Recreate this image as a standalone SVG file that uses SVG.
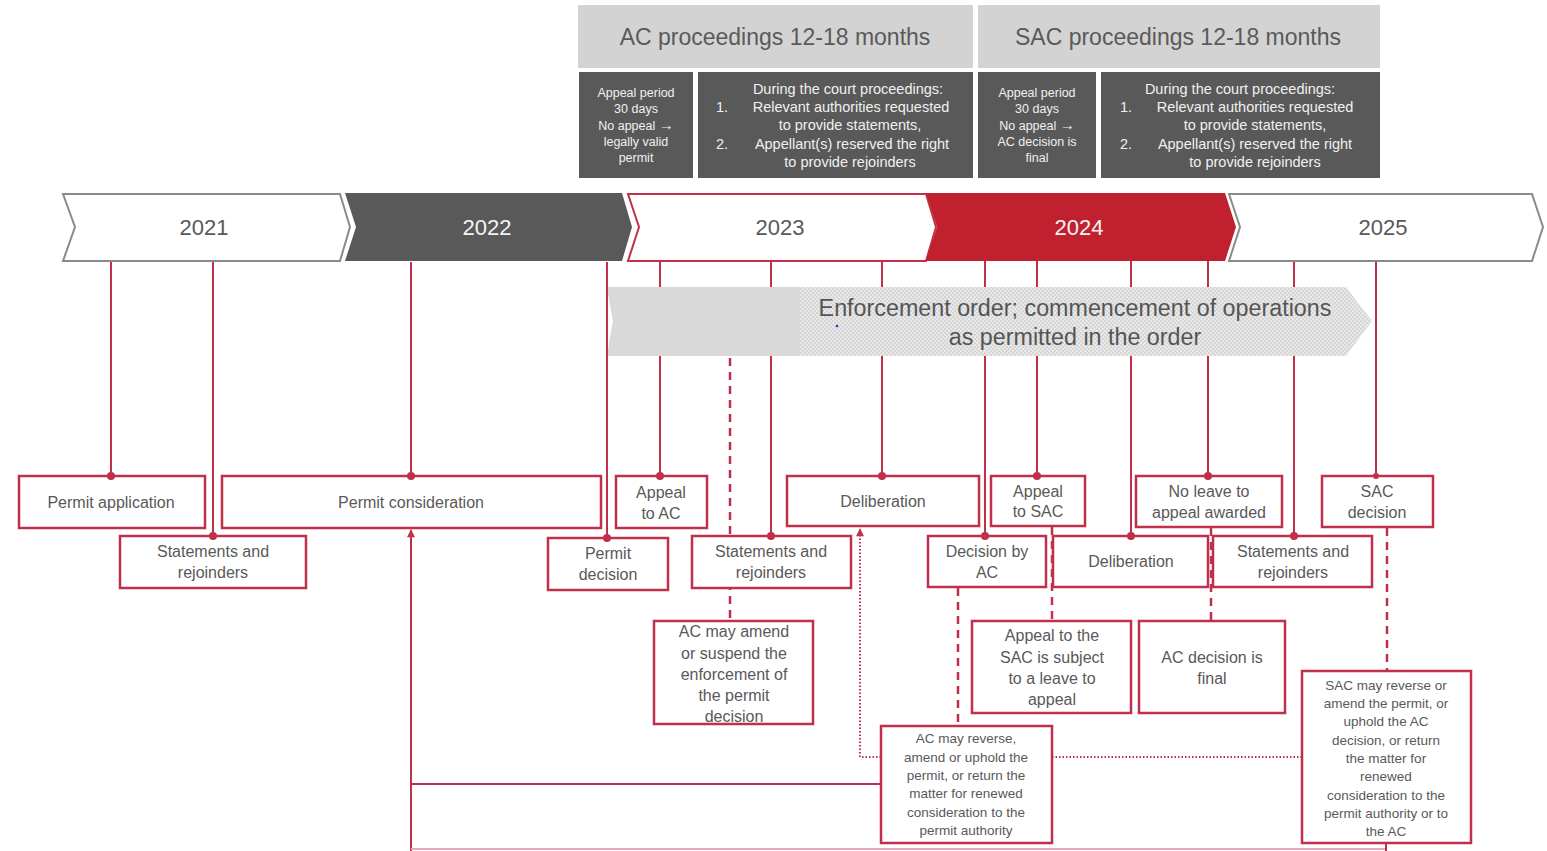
<svg xmlns="http://www.w3.org/2000/svg" width="1547" height="851" viewBox="0 0 1547 851">
  <style>
    text { font-family: "Liberation Sans", Arial, sans-serif; fill: #595959; text-anchor: middle; }
    .hdr { fill: #d3d3d3; }
    .hdr-t { font-size: 23px; fill: #5a5a5a; }
    .dark { fill: #595959; }
    .dark-t { font-size: 12.5px; fill: #f0f0f0; }
    .dur-t { font-size: 14.5px; fill: #f0f0f0; }
    .num { text-anchor: start; }
    .year { font-size: 22px; }
    .year-inv { fill: #f4f4f4; }
    .band-t { font-size: 23.3px; fill: #555555; }
    .box { fill: #ffffff; stroke: #c0304a; stroke-width: 2.5; }
    .bt { font-size: 16px; }
    .st { font-size: 13.5px; }
    .ln { stroke: #c0304a; stroke-width: 2; fill: none; }
    .dash { stroke: #c0304a; stroke-width: 2.5; stroke-dasharray: 8 6; fill: none; }
    .dot { stroke: #c0304a; stroke-width: 2; stroke-dasharray: 1.5 2; fill: none; }
    .pin { fill: #c0304a; }
  </style>
  <defs>
    <pattern id="hatch" width="4" height="4" patternUnits="userSpaceOnUse">
      <rect width="4" height="4" fill="#e8e8e8"/>
      <rect width="2" height="2" fill="#d6d6d6"/>
      <rect x="2" y="2" width="2" height="2" fill="#d6d6d6"/>
    </pattern>
    <marker id="tri" viewBox="0 0 10 10" refX="9" refY="5" markerWidth="9" markerHeight="8" orient="auto" markerUnits="userSpaceOnUse">
      <path d="M0,0 L10,5 L0,10 z" fill="#c0304a"/>
    </marker>
  </defs>

  <rect width="1547" height="851" fill="#ffffff"/>

  <!-- court proceedings headers -->
  <g id="hdr-ac">
    <rect class="hdr" x="578" y="5" width="395" height="63"/>
    <text class="hdr-t" x="775" y="45">AC proceedings 12-18 months</text>
  </g>
  <g id="hdr-sac">
    <rect class="hdr" x="978" y="5" width="402" height="63"/>
    <text class="hdr-t" x="1178" y="45">SAC proceedings 12-18 months</text>
  </g>
  <g id="ac-appeal-period">
    <rect class="dark" x="579" y="72" width="114" height="106"/>
    <text class="dark-t" x="636" y="97">Appeal period</text>
    <text class="dark-t" x="636" y="113">30 days</text>
    <text class="dark-t" x="636" y="130">No appeal <tspan font-size="15">→</tspan></text>
    <text class="dark-t" x="636" y="146">legally valid</text>
    <text class="dark-t" x="636" y="162">permit</text>
  </g>
  <g id="ac-during">
    <rect class="dark" x="698" y="72" width="275" height="106"/>
    <text class="dur-t" x="848" y="94">During the court proceedings:</text>
    <text class="dur-t num" x="716" y="112">1.</text>
    <text class="dur-t" x="851" y="112">Relevant authorities requested</text>
    <text class="dur-t" x="850" y="130">to provide statements,</text>
    <text class="dur-t num" x="716" y="149">2.</text>
    <text class="dur-t" x="852" y="149">Appellant(s) reserved the right</text>
    <text class="dur-t" x="850" y="167">to provide rejoinders</text>
  </g>
  <g id="sac-appeal-period">
    <rect class="dark" x="978" y="72" width="118" height="106"/>
    <text class="dark-t" x="1037" y="97">Appeal period</text>
    <text class="dark-t" x="1037" y="113">30 days</text>
    <text class="dark-t" x="1037" y="130">No appeal <tspan font-size="15">→</tspan></text>
    <text class="dark-t" x="1037" y="146">AC decision is</text>
    <text class="dark-t" x="1037" y="162">final</text>
  </g>
  <g id="sac-during">
    <rect class="dark" x="1101" y="72" width="279" height="106"/>
    <text class="dur-t" x="1240" y="94">During the court proceedings:</text>
    <text class="dur-t num" x="1120" y="112">1.</text>
    <text class="dur-t" x="1255" y="112">Relevant authorities requested</text>
    <text class="dur-t" x="1255" y="130">to provide statements,</text>
    <text class="dur-t num" x="1120" y="149">2.</text>
    <text class="dur-t" x="1255" y="149">Appellant(s) reserved the right</text>
    <text class="dur-t" x="1255" y="167">to provide rejoinders</text>
  </g>

  <!-- connectors -->
  <g id="connectors">
    <!-- drop lines from the year chevrons to the events -->
    <line class="ln" x1="111" y1="261" x2="111" y2="476"/>
    <line class="ln" x1="213" y1="261" x2="213" y2="536"/>
    <line class="ln" x1="411" y1="262" x2="411" y2="476"/>
    <line class="ln" x1="607" y1="262" x2="607" y2="538"/>
    <line class="ln" x1="660" y1="261" x2="660" y2="476"/>
    <line class="ln" x1="771" y1="261" x2="771" y2="536"/>
    <line class="ln" x1="882" y1="261" x2="882" y2="476"/>
    <line class="ln" x1="985" y1="261" x2="985" y2="536"/>
    <line class="ln" x1="1037" y1="261" x2="1037" y2="476"/>
    <line class="ln" x1="1131" y1="261" x2="1131" y2="536"/>
    <line class="ln" x1="1208" y1="261" x2="1208" y2="476"/>
    <line class="ln" x1="1294" y1="261" x2="1294" y2="536"/>
    <line class="ln" x1="1376" y1="261" x2="1376" y2="476"/>
    <!-- dashed consequences -->
    <line class="dash" x1="730" y1="358" x2="730" y2="621"/>
    <line class="dash" x1="958" y1="588" x2="958" y2="726"/>
    <line class="dash" x1="1052" y1="527" x2="1052" y2="621"/>
    <line class="dash" x1="1211" y1="528" x2="1211" y2="621"/>
    <line class="dash" x1="1387" y1="528" x2="1387" y2="671"/>
    <!-- dotted return paths -->
    <polyline class="dot" points="881,757 860,757 860,529" marker-end="url(#tri)"/>
    <line class="dot" x1="1052" y1="757" x2="1302" y2="757"/>
    <!-- renewed consideration feedback -->
    <line class="ln" x1="411" y1="851" x2="411" y2="530" marker-end="url(#tri)"/>
    <line class="ln" x1="411" y1="784" x2="881" y2="784"/>
    <line x1="411" y1="849" x2="1386" y2="849" stroke="#e8a8b6" stroke-width="2"/>
    <line class="ln" x1="1386" y1="843" x2="1386" y2="851"/>
  </g>

  <!-- enforcement band -->
  <g id="enforcement">
    <polygon points="607,287 1346,287 1372,321 1346,356 607,356 613,321" fill="url(#hatch)"/>
    <polygon points="607,287 800,287 800,356 607,356 613,321" fill="#d9d9d9"/>
    <text class="band-t" x="1075" y="316">Enforcement order; commencement of operations</text>
    <text class="band-t" x="1075" y="345">as permitted in the order</text>
    <circle cx="837" cy="326" r="1.3" fill="#2233cc"/>
  </g>
  <!-- line that stays visible through the band -->
  <line class="ln" x1="607" y1="287" x2="607" y2="356"/>

  <!-- year chevrons -->
  <g id="y2021">
    <polygon points="63,194 340,194 350,227 340,261 63,261 75,227" fill="#fff" stroke="#8a8a8a" stroke-width="2"/>
    <text class="year" x="204" y="235">2021</text>
  </g>
  <g id="y2022">
    <polygon points="345,193 622,193 632,227 622,261 345,261 356,227" fill="#595959"/>
    <text class="year year-inv" x="487" y="235">2022</text>
  </g>
  <g id="y2023">
    <polygon points="628,194 926,194 936,227 926,261 628,261 639,227" fill="#fff" stroke="#c0304a" stroke-width="2"/>
    <text class="year" x="780" y="235">2023</text>
  </g>
  <g id="y2024">
    <polygon points="926,193 1225,193 1236,227 1225,261 926,261 937,227" fill="#c1212f"/>
    <text class="year year-inv" x="1079" y="235">2024</text>
  </g>
  <g id="y2025">
    <polygon points="1229,194 1532,194 1543,227 1532,261 1229,261 1240,227" fill="#fff" stroke="#8a8a8a" stroke-width="2"/>
    <text class="year" x="1383" y="235">2025</text>
  </g>

  <!-- event boxes -->
  <g id="permit-application">
    <rect class="box" x="19" y="476" width="186" height="52"/>
    <text class="bt" x="111" y="508">Permit application</text>
  </g>
  <g id="statements-1">
    <rect class="box" x="120" y="536" width="186" height="52"/>
    <text class="bt" x="213" y="557">Statements and</text>
    <text class="bt" x="213" y="578">rejoinders</text>
  </g>
  <g id="permit-consideration">
    <rect class="box" x="222" y="476" width="379" height="52"/>
    <text class="bt" x="411" y="508">Permit consideration</text>
  </g>
  <g id="permit-decision">
    <rect class="box" x="548" y="538" width="120" height="52"/>
    <text class="bt" x="608" y="559">Permit</text>
    <text class="bt" x="608" y="580">decision</text>
  </g>
  <g id="appeal-ac">
    <rect class="box" x="616" y="476" width="91" height="52"/>
    <text class="bt" x="661" y="498">Appeal</text>
    <text class="bt" x="661" y="519">to AC</text>
  </g>
  <g id="statements-2">
    <rect class="box" x="692" y="536" width="159" height="52"/>
    <text class="bt" x="771" y="557">Statements and</text>
    <text class="bt" x="771" y="578">rejoinders</text>
  </g>
  <g id="ac-amend">
    <rect class="box" x="654" y="621" width="159" height="103"/>
    <text class="bt" x="734" y="637">AC may amend</text>
    <text class="bt" x="734" y="659">or suspend the</text>
    <text class="bt" x="734" y="680">enforcement of</text>
    <text class="bt" x="734" y="701">the permit</text>
    <text class="bt" x="734" y="722">decision</text>
  </g>
  <g id="deliberation-1">
    <rect class="box" x="787" y="476" width="192" height="50"/>
    <text class="bt" x="883" y="507">Deliberation</text>
  </g>
  <g id="decision-ac">
    <rect class="box" x="928" y="536" width="118" height="51"/>
    <text class="bt" x="987" y="557">Decision by</text>
    <text class="bt" x="987" y="578">AC</text>
  </g>
  <g id="appeal-sac">
    <rect class="box" x="991" y="476" width="94" height="50"/>
    <text class="bt" x="1038" y="497">Appeal</text>
    <text class="bt" x="1038" y="517">to SAC</text>
  </g>
  <g id="deliberation-2">
    <rect class="box" x="1053" y="536" width="155" height="51"/>
    <text class="bt" x="1131" y="567">Deliberation</text>
  </g>
  <g id="no-leave">
    <rect class="box" x="1136" y="476" width="146" height="51"/>
    <text class="bt" x="1209" y="497">No leave to</text>
    <text class="bt" x="1209" y="518">appeal awarded</text>
  </g>
  <g id="statements-3">
    <rect class="box" x="1213" y="536" width="159" height="51"/>
    <text class="bt" x="1293" y="557">Statements and</text>
    <text class="bt" x="1293" y="578">rejoinders</text>
  </g>
  <g id="sac-decision">
    <rect class="box" x="1322" y="476" width="111" height="51"/>
    <text class="bt" x="1377" y="497">SAC</text>
    <text class="bt" x="1377" y="518">decision</text>
  </g>
  <g id="leave-to-appeal">
    <rect class="box" x="972" y="621" width="159" height="92"/>
    <text class="bt" x="1052" y="641">Appeal to the</text>
    <text class="bt" x="1052" y="663">SAC is subject</text>
    <text class="bt" x="1052" y="684">to a leave to</text>
    <text class="bt" x="1052" y="705">appeal</text>
  </g>
  <g id="ac-final">
    <rect class="box" x="1139" y="621" width="146" height="92"/>
    <text class="bt" x="1212" y="663">AC decision is</text>
    <text class="bt" x="1212" y="684">final</text>
  </g>
  <g id="ac-outcome">
    <rect class="box" x="881" y="726" width="171" height="117"/>
    <text class="st" x="966" y="743">AC may reverse,</text>
    <text class="st" x="966" y="762">amend or uphold the</text>
    <text class="st" x="966" y="780">permit, or return the</text>
    <text class="st" x="966" y="798">matter for renewed</text>
    <text class="st" x="966" y="817">consideration to the</text>
    <text class="st" x="966" y="835">permit authority</text>
  </g>
  <g id="sac-outcome">
    <rect class="box" x="1302" y="671" width="169" height="172"/>
    <text class="st" x="1386" y="690">SAC may reverse or</text>
    <text class="st" x="1386" y="708">amend the permit, or</text>
    <text class="st" x="1386" y="726">uphold the AC</text>
    <text class="st" x="1386" y="745">decision, or return</text>
    <text class="st" x="1386" y="763">the matter for</text>
    <text class="st" x="1386" y="781">renewed</text>
    <text class="st" x="1386" y="800">consideration to the</text>
    <text class="st" x="1386" y="818">permit authority or to</text>
    <text class="st" x="1386" y="836">the AC</text>
  </g>

  <!-- attachment points -->
  <g id="pins">
    <circle class="pin" cx="111" cy="476" r="4"/>
    <circle class="pin" cx="213" cy="536" r="4"/>
    <circle class="pin" cx="411" cy="476" r="4"/>
    <circle class="pin" cx="607" cy="538" r="4"/>
    <circle class="pin" cx="660" cy="476" r="4"/>
    <circle class="pin" cx="771" cy="536" r="4"/>
    <circle class="pin" cx="882" cy="476" r="4"/>
    <circle class="pin" cx="985" cy="536" r="4"/>
    <circle class="pin" cx="1037" cy="476" r="4"/>
    <circle class="pin" cx="1131" cy="536" r="4"/>
    <circle class="pin" cx="1208" cy="476" r="4"/>
    <circle class="pin" cx="1294" cy="536" r="4"/>
    <circle class="pin" cx="1376" cy="476" r="3"/>
  </g>
</svg>
